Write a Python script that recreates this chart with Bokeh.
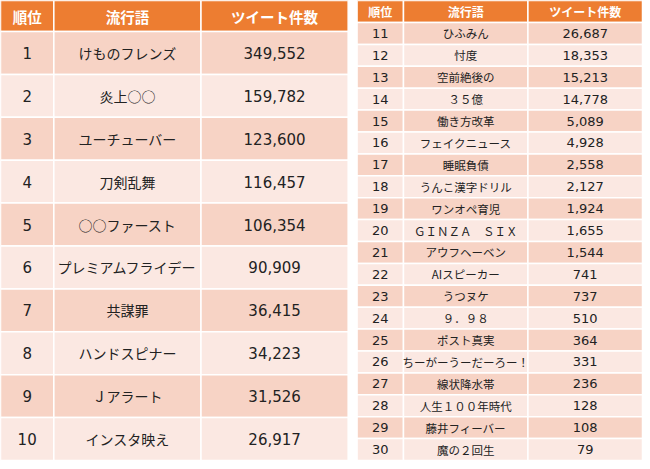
from bokeh.plotting import figure
from bokeh.models import Range1d, ColumnDataSource
from bokeh.core.properties import value
from bokeh.embed import file_html
from bokeh.resources import INLINE

# ---- data ----
headers = ["順位", "流行語", "ツイート件数"]

ranks_left = [1, 2, 3, 4, 5, 6, 7, 8, 9, 10]
words_left = ["けものフレンズ", "炎上○○", "ユーチューバー", "刀剣乱舞", "○○ファースト",
              "プレミアムフライデー", "共謀罪", "ハンドスピナー", "Ｊアラート", "インスタ映え"]
counts_left = [349552, 159782, 123600, 116457, 106354, 90909, 36415, 34223, 31526, 26917]

ranks_right = list(range(11, 31))
words_right = ["ひふみん", "忖度", "空前絶後の", "３５億", "働き方改革", "フェイクニュース",
               "睡眠負債", "うんこ漢字ドリル", "ワンオペ育児", "ＧＩＮＺＡ　ＳＩＸ",
               "アウフヘーベン", "AIスピーカー", "うつヌケ", "９．９８", "ポスト真実",
               "ちーがーうーだーろー！", "線状降水帯", "人生１００年時代", "藤井フィーバー", "魔の２回生"]
counts_right = [26687, 18353, 15213, 14778, 5089, 4928, 2558, 2127, 1924, 1655,
                1544, 741, 737, 510, 364, 331, 236, 128, 108, 79]

# ---- style ----
HEADER = "#ED7D31"
ODD = "#F7D3C5"
EVEN = "#FBE8E2"
TXT = "#222222"
JFONT = "Noto Sans CJK JP"
NFONT = "DejaVu Sans"

p = figure(width=642, height=461, output_backend="svg", toolbar_location=None,
           x_range=Range1d(0, 650), y_range=Range1d(461, 0), min_border=0)
p.axis.visible = False
p.grid.visible = False
p.outline_line_color = None
p.background_fill_color = "white"


def build(edges, top, head_h, row_h, ranks, words, counts, head_fs, word_fs, num_fs):
    cells = dict(l=[], r=[], t=[], b=[], c=[])
    htxt = dict(x=[], y=[], t=[])
    ntxt = dict(x=[], y=[], t=[])
    wtxt = dict(x=[], y=[], t=[])
    for j in range(3):
        cells["l"].append(edges[j]); cells["r"].append(edges[j + 1])
        cells["t"].append(top); cells["b"].append(top + head_h)
        cells["c"].append(HEADER)
        htxt["x"].append((edges[j] + edges[j + 1]) / 2)
        htxt["y"].append(top + head_h / 2)
        htxt["t"].append(headers[j])
    for i, (rk, w, c) in enumerate(zip(ranks, words, counts)):
        y0 = top + head_h + i * row_h
        col = ODD if i % 2 == 0 else EVEN
        for j in range(3):
            cells["l"].append(edges[j]); cells["r"].append(edges[j + 1])
            cells["t"].append(y0); cells["b"].append(y0 + row_h)
            cells["c"].append(col)
        cy = y0 + row_h / 2
        ntxt["x"].append((edges[0] + edges[1]) / 2); ntxt["y"].append(cy); ntxt["t"].append(str(rk))
        ntxt["x"].append((edges[2] + edges[3]) / 2); ntxt["y"].append(cy); ntxt["t"].append(f"{c:,}")
        wtxt["x"].append((edges[1] + edges[2]) / 2); wtxt["y"].append(cy); wtxt["t"].append(w)
    p.quad(left="l", right="r", top="t", bottom="b", fill_color="c",
           line_color="white", line_width=1.5, source=ColumnDataSource(cells))
    p.text(x="x", y="y", text="t", source=ColumnDataSource(htxt),
           text_align="center", text_baseline="middle", text_color="white",
           text_font=value(JFONT), text_font_style="bold", text_font_size=head_fs)
    p.text(x="x", y="y", text="t", source=ColumnDataSource(ntxt),
           text_align="center", text_baseline="middle", text_color=TXT,
           text_font=value(NFONT), text_font_size=num_fs)
    p.text(x="x", y="y", text="t", source=ColumnDataSource(wtxt),
           text_align="center", text_baseline="middle", text_color=TXT,
           text_font=value(JFONT), text_font_size=word_fs)


build([0, 54, 203, 352], 0, 31, 42.9, ranks_left, words_left, counts_left, "14.5px", "14px", "15px")
build([361, 408, 534, 650], 0, 22, 21.9, ranks_right, words_right, counts_right, "12px", "11.5px", "13px")

open("out.html", "w").write(file_html(p, INLINE))
